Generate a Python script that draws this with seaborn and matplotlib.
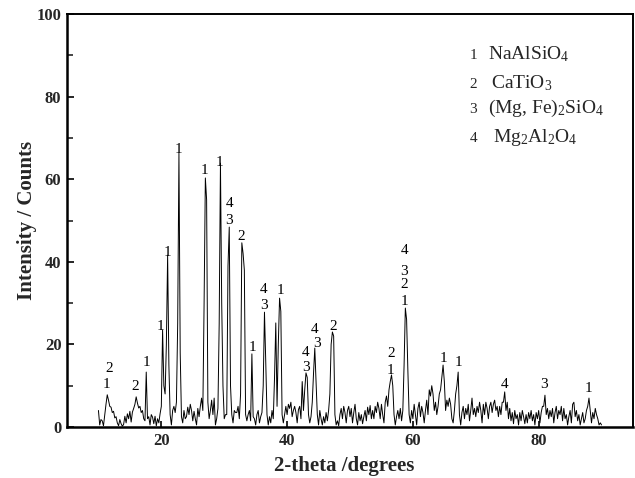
import numpy as np
import pandas as pd
import matplotlib
matplotlib.use("Agg")
import matplotlib.pyplot as plt
import seaborn as sns
from matplotlib.ticker import MultipleLocator

# ---------------- data ----------------
two_theta_start = 10.0
two_theta_step = 0.2

intensity = [
    4.0, 0.5, 1.8, 1.5, 0.3, 3.0, 5.5, 7.8, 6.5, 5.0,      # 10.0-11.8
    4.8, 3.5, 3.8, 2.2, 2.5, 1.0, 0.3, 1.8, 0.8, 0.2,      # 12
    0.6, 2.6, 1.0, 3.2, 2.0, 3.8, 1.2, 3.6, 4.5, 5.5,      # 14
    7.3, 5.8, 4.6, 5.0, 3.5, 4.0, 2.0, 1.5, 13.3, 2.0,     # 16
    2.5, 0.5, 3.0, 2.4, 0.8, 2.6, 0.3, 2.0, 1.0, 3.2,      # 18
    5.0, 23.5, 10.0, 8.0, 20.0, 41.6, 15.0, 3.0, 0.5, 4.0, # 20
    5.0, 3.5, 6.0, 25.0, 66.3, 18.0, 2.5, 1.0, 4.0, 2.0,   # 22
    2.5, 4.8, 3.0, 5.5, 4.0, 1.5, 3.8, 2.0, 0.5, 4.5,      # 24
    2.5, 5.0, 7.0, 4.0, 30.0, 60.3, 55.0, 6.0, 2.0, 4.0,   # 26
    6.5, 3.0, 7.0, 0.5, 2.0, 4.5, 25.0, 63.9, 30.0, 10.0,  # 28
    2.0, 3.0, 3.0, 39.0, 48.4, 10.0, 3.0, 1.0, 4.0, 3.5,   # 30
    3.5, 5.0, 2.0, 8.0, 44.6, 42.0, 38.0, 3.0, 1.5, 3.0,   # 32
    4.0, 1.5, 17.7, 2.5, 2.0, 0.5, 3.0, 4.0, 1.0, 2.5,     # 34
    3.5, 10.0, 27.8, 16.0, 3.0, 0.5, 2.5, 1.0, 4.0, 2.0,   # 36
    12.0, 25.2, 5.0, 20.0, 31.2, 28.0, 3.0, 1.0, 3.0, 5.0, # 38
    3.0, 5.5, 4.5, 6.0, 2.5, 4.0, 5.0, 3.5, 1.0, 4.2,      # 40
    5.0, 2.0, 11.0, 4.0, 9.0, 13.1, 12.0, 3.0, 1.0, 2.5,   # 42
    6.0, 13.0, 19.1, 11.0, 3.0, 0.5, 4.0, 2.0, 0.5, 2.5,   # 44
    1.0, 3.5, 1.5, 4.0, 8.0, 20.0, 23.0, 22.0, 3.0, 0.5,   # 46
    1.5, 0.3, 3.0, 4.5, 2.0, 5.0, 3.5, 1.0, 4.0, 5.0,      # 48
    2.5, 4.5, 1.0, 3.5, 5.5, 2.0, 0.5, 3.5, 1.5, 3.0,      # 50
    0.8, 2.5, 4.0, 1.5, 4.8, 3.0, 5.2, 2.0, 4.0, 2.0,      # 52
    5.0, 3.5, 6.0, 4.5, 2.0, 5.5, 3.0, 1.0, 6.0, 7.5,      # 54
    5.0, 9.0, 11.0, 12.6, 10.0, 3.0, 0.5, 2.5, 4.0, 2.0,   # 56
    4.5, 1.5, 4.0, 15.0, 28.8, 26.0, 13.8, 3.0, 1.0, 4.0,  # 58
    2.0, 5.5, 3.0, 0.5, 4.5, 6.0, 2.5, 5.0, 3.5, 1.0,      # 60
    4.0, 6.5, 3.0, 9.0, 7.5, 10.0, 8.0, 4.0, 6.0, 3.0,     # 62
    5.0, 8.0, 9.0, 12.0, 15.0, 11.0, 4.0, 6.5, 5.0, 7.0,   # 64
    5.5, 2.0, 1.0, 4.0, 8.0, 10.0, 13.3, 3.0, 0.5, 3.5,    # 66
    5.0, 2.0, 4.5, 3.0, 5.5, 1.5, 4.0, 7.0, 3.0, 4.5,      # 68
    2.5, 5.0, 3.5, 6.0, 4.0, 1.0, 5.5, 3.0, 6.0, 4.5,      # 70
    2.0, 5.0, 6.0, 3.5, 5.5, 6.5, 4.0, 5.0, 2.5, 5.0,      # 72
    3.0, 6.0, 6.0, 8.5, 4.0, 6.0, 2.0, 4.5, 1.5, 3.5,      # 74
    0.8, 4.0, 2.0, 3.0, 0.5, 3.5, 1.5, 4.0, 2.5, 0.8,      # 76
    3.0, 1.0, 3.5, 2.0, 4.0, 1.5, 3.0, 0.5, 3.5, 2.0,      # 78
    4.0, 1.0, 3.5, 5.0, 5.0, 7.7, 3.0, 4.5, 2.0, 4.0,      # 80
    2.5, 4.5, 1.0, 3.5, 5.0, 2.0, 4.0, 3.0, 5.0, 1.5,      # 82
    4.5, 2.0, 3.0, 0.5, 2.5, 4.0, 1.0, 5.5, 6.0, 2.5,      # 84
    4.0, 1.5, 3.0, 0.5, 2.0, 3.5, 1.0, 2.0, 4.0, 5.0,      # 86
    7.0, 4.0, 1.0, 3.5, 2.0, 4.5, 3.0, 2.0, 0.5, 1.0,      # 88
    0.5,                                                   # 90.0
]

# peak assignment labels
peak_x = [11.3, 11.7, 15.8, 17.6, 19.9, 20.9, 22.8, 26.8, 29.3, 30.8, 30.8,
          32.7, 34.5, 36.3, 36.3, 38.9, 43.0, 43.0, 44.4, 44.7, 47.3,
          56.5, 56.5, 58.6, 58.6, 58.6, 58.6, 64.8, 67.2, 74.5, 80.9, 87.9]
peak_y = [10.2, 14.2, 9.9, 15.5, 24.3, 42.2, 67.1, 62.2, 64.1, 54.2, 50.0,
          46.2, 19.3, 33.2, 29.5, 33.0, 18.1, 14.4, 23.7, 20.1, 24.3,
          17.7, 13.6, 42.7, 37.6, 34.6, 30.3, 16.7, 15.5, 10.2, 10.2, 9.4]
peak_text = ['1', '2', '2', '1', '1', '1', '1', '1', '1', '4', '3',
             '2', '1', '4', '3', '1', '4', '3', '4', '3', '2',
             '2', '1', '4', '3', '2', '1', '1', '1', '4', '3', '1']

# phase key
phase_ids = ['1', '2', '3', '4']
phase_names = [r'NaAlSiO$_\mathrm{4}$', r'CaTiO$_\mathrm{3}$',
               r'(Mg, Fe)$_\mathrm{2}$SiO$_\mathrm{4}$',
               r'Mg$_\mathrm{2}$Al$_\mathrm{2}$O$_\mathrm{4}$']

# ---------------- style ----------------
sns.set_style('ticks')
plt.rcParams['font.family'] = ['Liberation Serif', 'DejaVu Serif']
plt.rcParams['mathtext.fontset'] = 'custom'
plt.rcParams['mathtext.rm'] = 'Liberation Serif'
plt.rcParams['mathtext.it'] = 'Liberation Serif:italic'
plt.rcParams['mathtext.bf'] = 'Liberation Serif:bold'

two_theta = np.round(two_theta_start + two_theta_step * np.arange(len(intensity)), 2)
df = pd.DataFrame({'two_theta': two_theta, 'intensity': intensity})

fig = plt.figure(figsize=(6.35, 4.78), dpi=100)
ax = fig.add_axes([67 / 635, 1 - 427 / 478, 566 / 635, 413 / 478])

sns.lineplot(data=df, x='two_theta', y='intensity', ax=ax, color='black',
             linewidth=0.7, estimator=None)

ax.set_xlim(5, 95)
ax.set_ylim(0, 100)
ax.xaxis.set_major_locator(MultipleLocator(20))
ax.yaxis.set_major_locator(MultipleLocator(20))
ax.yaxis.set_minor_locator(MultipleLocator(10))
ax.set_xticks([20, 40, 60, 80])

ax.tick_params(axis='both', which='major', direction='in', length=5, width=1.4,
               labelsize=12, pad=4)
ax.tick_params(axis='y', which='minor', direction='in', length=4, width=1.2)
ax.tick_params(axis='x', which='major', length=4)
for lab in ax.get_xticklabels() + ax.get_yticklabels():
    lab.set_fontweight('bold')

for side, w in (('left', 1.8), ('bottom', 1.8), ('top', 1.4), ('right', 1.4)):
    ax.spines[side].set_linewidth(w)
    ax.spines[side].set_color('black')

ax.set_xlabel('2-theta /degrees', fontsize=15, fontweight='bold')
ax.set_ylabel('Intensity / Counts', fontsize=15, fontweight='bold')
ax.xaxis.set_label_coords(0.49, -0.0956)
ax.xaxis.label.set_va('center')
ax.yaxis.set_label_coords(-0.0707, 0.5)
ax.yaxis.label.set_va('center')

for x, y, t in zip(peak_x, peak_y, peak_text):
    ax.text(x, y, t, ha='center', va='center', fontsize=11, color='black')

key_id_x = 0.718
key_name_x = [0.744, 0.749, 0.744, 0.752]
key_y = [0.891, 0.821, 0.760, 0.690]
for pid, name, nx, ky in zip(phase_ids, phase_names, key_name_x, key_y):
    ax.text(key_id_x, ky, pid, transform=ax.transAxes, ha='center',
            va='baseline', fontsize=11)
    ax.text(nx, ky, name, transform=ax.transAxes, ha='left',
            va='baseline', fontsize=14)

fig.savefig('out.png', dpi=100)
